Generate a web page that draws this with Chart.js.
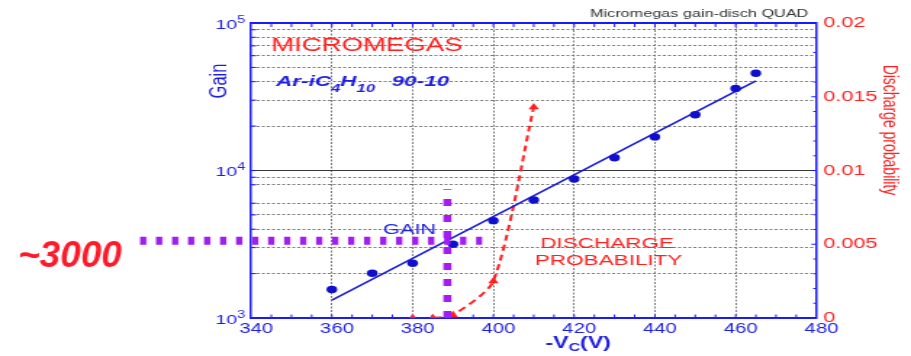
<!DOCTYPE html>
<html>
<head>
<meta charset="utf-8">
<script src="https://cdn.jsdelivr.net/npm/chart.js@4.4.1/dist/chart.umd.min.js"></script>
<style>
  html, body { margin: 0; padding: 0; background: #ffffff; }
  #wrap { width: 911px; height: 356px; overflow: hidden; }
</style>
</head>
<body>
<div id="wrap">
  <!-- drawn at 628 px and shown 911 px wide: the plot keeps its wide aspect -->
  <canvas id="c" width="628" height="356" style="width:911px;height:356px;display:block"></canvas>
</div>
<script>
// Micromegas (QUAD) gain and discharge probability versus mesh voltage, Ar-iC4H10 90-10

// measured gain
const voltage = [360, 370, 380, 390, 400, 410, 420, 430, 440, 450, 460, 465];
const gain    = [1560, 2010, 2350, 3160, 4570, 6310, 8750, 12200, 16900, 23900, 36000, 45600];

// exponential fit to the gain
const fitVoltage = [360, 465];
const fitGain    = [1324, 40500];

// discharge probability
const dischVoltage = [380, 385, 390, 400, 410];
const dischProb    = [0, 0, 0.0002, 0.0025, 0.0143];

// operating point markers
const opVoltage    = 388.6;
const opGain       = 3340;
const opGainLineV  = [312.5, 397.2];   // voltage extent of the horizontal marker
const opVoltLineG  = [1000, 7450];     // gain extent of the vertical marker

// axis ticks
const voltageTicks = [340, 360, 380, 400, 420, 440, 460, 480];
const gainTicks    = [1000, 2000, 3000, 4000, 5000, 6000, 8000, 9000,
                      10000, 20000, 30000, 40000, 50000, 60000, 70000, 80000, 90000, 100000];
const gainDecades  = [1000, 10000, 100000];
const probTicks    = [0, 0.005, 0.01, 0.015, 0.02];
const probLabels   = ['0', '0.005', '0.01', '0.015', '0.02'];

const STRETCH = 911 / 628;
const FONT   = '"Liberation Sans", Arial, Helvetica, sans-serif';
const AXIS   = '#1a1aff';
const BLUE   = '#1e1ee0';
const DOT    = '#1010cc';
const RED    = '#ff2020';
const PURPLE = '#a31cf2';
const GRID   = '#7c7c7c';

Chart.defaults.font.family = FONT;

const pts = (xs, ys) => xs.map((v, i) => ({ x: v, y: ys[i] }));

function textRuns(ctx, parts, x, y) {
  parts.forEach(p => {
    ctx.font = p.font;
    ctx.fillText(p.t, x, y + (p.dy || 0));
    x += ctx.measureText(p.t).width;
  });
}

const decor = {
  id: 'decor',
  beforeDatasetsDraw(chart) {
    const { ctx, chartArea: a, scales: { x, y, y2 } } = chart;
    ctx.save();
    ctx.strokeStyle = AXIS;
    ctx.lineWidth = 2;
    ctx.beginPath();
    ctx.moveTo(a.left, a.top);
    ctx.lineTo(a.right, a.top);
    ctx.stroke();

    ctx.lineWidth = 1;
    ctx.beginPath();
    // small inward ticks every 5 V on top and bottom frame
    for (let v = x.min + 5; v < x.max; v += 5) {
      const px = x.getPixelForValue(v);
      ctx.moveTo(px, a.bottom); ctx.lineTo(px, a.bottom - 3.5);
      ctx.moveTo(px, a.top);    ctx.lineTo(px, a.top + 4);
    }
    // gain axis ticks
    gainTicks.forEach(g => {
      const py = y.getPixelForValue(g);
      ctx.moveTo(a.left, py); ctx.lineTo(a.left + 3.5, py);
    });
    // probability axis ticks every 0.001
    for (let k = 1; k < 20; k++) {
      const py = y2.getPixelForValue(k * 0.001);
      const len = k % 5 === 0 ? 3.5 : 2.2;
      ctx.moveTo(a.right, py); ctx.lineTo(a.right - len, py);
    }
    ctx.stroke();
    ctx.restore();
  },
  afterDraw(chart) {
    const { ctx, chartArea: a, scales: { y } } = chart;
    ctx.save();
    ctx.textBaseline = 'alphabetic';

    // decade labels of the gain axis: 10 with a raised exponent
    ctx.fillStyle = BLUE;
    gainDecades.forEach(g => {
      const py = y.getPixelForValue(g);
      const exp = String(Math.round(Math.log10(g)));
      ctx.textAlign = 'right';
      ctx.font = '10px ' + FONT;
      const ew = ctx.measureText(exp).width;
      ctx.fillText(exp, a.left - 4, py - 0.5);
      ctx.font = '13.5px ' + FONT;
      ctx.fillText('10', a.left - 4 - ew, py + 5.5);
    });

    // header
    ctx.textAlign = 'right';
    ctx.fillStyle = '#333333';
    ctx.font = '11.2px ' + FONT;
    ctx.fillText('Micromegas gain-disch QUAD', 557.2, 16.7);

    ctx.textAlign = 'left';
    ctx.fillStyle = RED;
    ctx.font = '19px ' + FONT;
    ctx.fillText('MICROMEGAS', 186.9, 50.7);

    // gas mixture
    ctx.fillStyle = BLUE;
    const big = 'italic bold 15.5px ' + FONT;
    const sub = 'italic bold 11.5px ' + FONT;
    textRuns(ctx, [
      { t: 'Ar-iC', font: big },
      { t: '4', font: sub, dy: 5.5 },
      { t: 'H', font: big },
      { t: '10', font: sub, dy: 5.5 }
    ], 190.3, 86);
    ctx.font = big;
    ctx.fillText('90-10', 270, 86);

    // curve labels
    ctx.font = '15px ' + FONT;
    ctx.fillText('GAIN', 264, 234.3);
    ctx.fillStyle = RED;
    ctx.textAlign = 'center';
    ctx.font = '15.5px ' + FONT;
    ctx.fillText('DISCHARGE', 418.5, 248.3);
    ctx.fillText('PROBABILITY', 419.6, 265);

    // x-axis title
    ctx.textAlign = 'left';
    ctx.fillStyle = BLUE;
    textRuns(ctx, [
      { t: '-V', font: 'bold 16px ' + FONT },
      { t: 'C', font: 'bold 11px ' + FONT, dy: 3 },
      { t: '(V)', font: 'bold 16px ' + FONT }
    ], 375.9, 348.3);

    // vertical axis titles
    ctx.textAlign = 'center';
    ctx.textBaseline = 'middle';
    ctx.save();
    ctx.translate(151.7, 81);
    ctx.rotate(-Math.PI / 2);
    ctx.fillStyle = BLUE;
    ctx.font = '16.5px ' + FONT;
    ctx.fillText('Gain', 0, 0);
    ctx.restore();

    ctx.save();
    ctx.translate(612.4, 130);
    ctx.rotate(Math.PI / 2);
    ctx.fillStyle = RED;
    ctx.font = '14px ' + FONT;
    ctx.fillText('Discharge probability', 0, 0);
    ctx.restore();

    // operating gain annotation, kept at natural proportions
    ctx.save();
    ctx.scale(1 / STRETCH, 1);
    ctx.textAlign = 'left';
    ctx.textBaseline = 'alphabetic';
    ctx.fillStyle = '#ff1a2a';
    ctx.font = 'italic bold 37px ' + FONT;
    ctx.fillText('~' + Math.round(opGain / 1000) * 1000, 18, 266.7);
    ctx.restore();

    ctx.restore();
  }
};

new Chart(document.getElementById('c'), {
  type: 'scatter',
  data: {
    datasets: [
      {
        label: 'op gain',
        data: pts(opGainLineV, [opGain, opGain]),
        showLine: true, pointRadius: 0,
        borderColor: PURPLE, borderWidth: 8, borderDash: [4.3, 6.73],
        borderCapStyle: 'butt', clip: false, order: 0
      },
      {
        label: 'op voltage',
        data: pts([opVoltage, opVoltage], opVoltLineG),
        showLine: true, pointRadius: 0,
        borderColor: PURPLE, borderWidth: 5.5, borderDash: [7, 9],
        borderCapStyle: 'butt', order: 0
      },
      {
        label: 'gain fit',
        data: pts(fitVoltage, fitGain),
        showLine: true, pointRadius: 0,
        borderColor: '#1a1ad8', borderWidth: 1.6, order: 2
      },
      {
        label: 'gain',
        data: pts(voltage, gain),
        showLine: false, pointStyle: 'circle', pointRadius: 3.7,
        backgroundColor: DOT, borderColor: DOT, borderWidth: 0, order: 1
      },
      {
        label: 'discharge curve',
        data: pts(dischVoltage.slice(1), dischProb.slice(1)),
        yAxisID: 'y2',
        showLine: true, pointRadius: 0,
        tension: 0.25,
        borderColor: RED, borderWidth: 2, borderDash: [6, 4], order: 2
      },
      {
        label: 'discharge probability',
        data: pts(dischVoltage, dischProb),
        yAxisID: 'y2',
        showLine: false, pointStyle: 'triangle', pointRadius: 4.2,
        backgroundColor: RED, borderColor: RED, borderWidth: 0, order: 1
      }
    ]
  },
  options: {
    responsive: false,
    animation: false,
    events: [],
    layout: { padding: { top: 23, left: 0, right: 0, bottom: 0 } },
    plugins: { legend: { display: false }, tooltip: { enabled: false } },
    scales: {
      x: {
        type: 'linear', position: 'bottom', min: 340, max: 480,
        afterBuildTicks: s => { s.ticks = voltageTicks.map(v => ({ value: v })); },
        afterFit: s => { s.height = 38; },
        ticks: { color: BLUE, font: { size: 14 }, padding: 3, labelOffset: 3.5,
                 maxRotation: 0, autoSkip: false, callback: v => String(v) },
        grid: { drawTicks: false, lineWidth: 1,
                color: c => (c.tick && (c.tick.value === 340 || c.tick.value === 480)) ? 'rgba(0,0,0,0)' : GRID },
        border: { color: AXIS, width: 2, dash: [2, 1.5] }
      },
      y: {
        type: 'logarithmic', position: 'left', min: 1000, max: 100000,
        afterBuildTicks: s => { s.ticks = gainTicks.map(v => ({ value: v })); },
        afterFit: s => { s.width = 173.1; },
        ticks: { display: false },
        grid: { drawTicks: false, lineWidth: 1,
                color: c => {
                  if (!c.tick) return GRID;
                  if (c.tick.value === 1000 || c.tick.value === 100000) return 'rgba(0,0,0,0)';
                  return c.tick.value === 10000 ? '#3a3a3a' : GRID;
                } },
        border: { color: AXIS, width: 1.5,
                  dash: c => (c.tick && c.tick.value === 10000) ? [] : [2, 1.5] }
      },
      y2: {
        type: 'linear', position: 'right', min: 0, max: 0.02,
        afterBuildTicks: s => { s.ticks = probTicks.map(v => ({ value: v })); },
        afterFit: s => { s.width = 65.2; },
        ticks: { color: RED, font: { size: 15 }, padding: 4.6, autoSkip: false,
                 callback: (v, i) => probLabels[i] },
        grid: { display: false, drawTicks: false },
        border: { color: AXIS, width: 1.5 }
      }
    }
  },
  plugins: [decor]
});
</script>
</body>
</html>
